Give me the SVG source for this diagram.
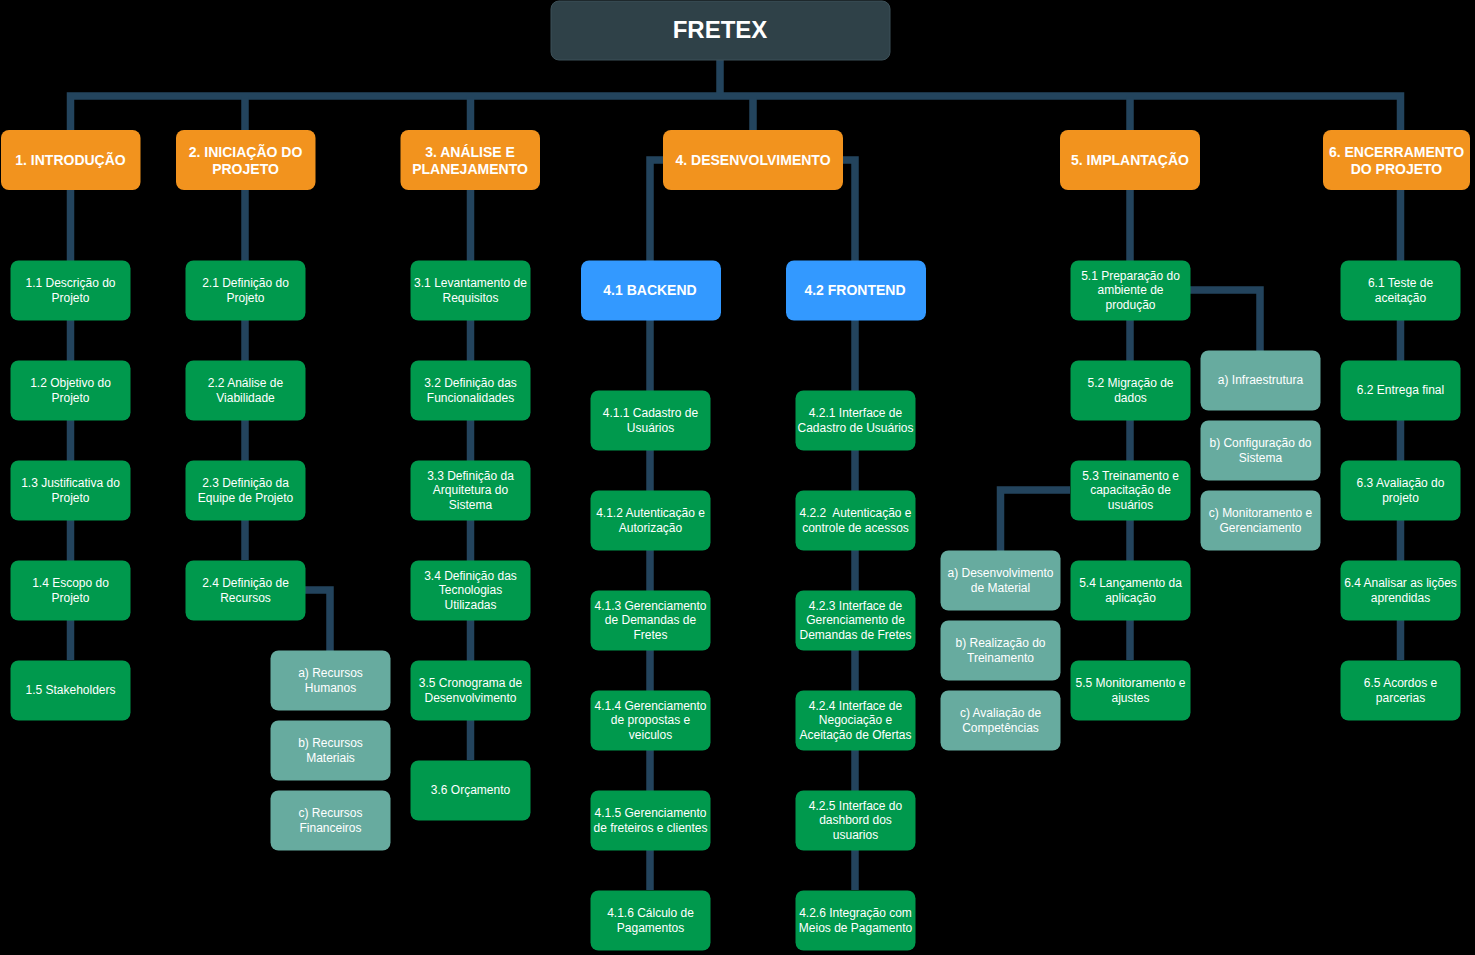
<svg xmlns="http://www.w3.org/2000/svg" width="1475" height="955" viewBox="0 0 1475 955">
<style>
.root{fill:#2f4148;stroke:#3d5159;stroke-width:1}
.o{fill:#f2931e}
.b{fill:#3399ff}
.g{fill:#00994d}
.s{fill:#67ab9f}
text{font-family:"Liberation Sans",Arial,Helvetica,sans-serif;fill:#ffffff;text-anchor:middle}
.t{font-size:12px}
.h{font-size:14px;font-weight:bold}
.rt{font-size:24px;font-weight:bold}
.c{fill:none;stroke:#23445d;stroke-width:7.5;stroke-linejoin:miter;stroke-linecap:butt}
</style>
<rect width="1475" height="955" fill="#000000"/>
<g id="connectors">
<path class="c" d="M720,60 V96"/>
<path class="c" d="M70.5,131 V96 H1400.5 V131"/>
<path class="c" d="M245,96 V131"/>
<path class="c" d="M470.5,96 V131"/>
<path class="c" d="M753,96 V131"/>
<path class="c" d="M1130,96 V131"/>
<path class="c" d="M70.5,190 V660"/>
<path class="c" d="M245,190 V560"/>
<path class="c" d="M305,590 H330 V651"/>
<path class="c" d="M470.5,190 V760"/>
<path class="c" d="M663,160 H650 V261"/>
<path class="c" d="M843,160 H855 V261"/>
<path class="c" d="M650,320 V890"/>
<path class="c" d="M855,320 V890"/>
<path class="c" d="M1130,190 V660"/>
<path class="c" d="M1190,290 H1260 V351"/>
<path class="c" d="M1070,490 H1000.5 V551"/>
<path class="c" d="M1400.5,190 V660"/>
</g>
<g id="n-root"><rect class="root" x="551" y="1" width="339" height="59" rx="8"/><text class="rt" x="720" y="37.5">FRETEX</text></g>
<g id="n1"><rect class="o" x="1" y="130" width="139.5" height="60" rx="8"/><text class="h" x="70.5" y="165">1. INTRODUÇÃO</text></g>
<g id="n2"><rect class="o" x="176" y="130" width="139.5" height="60" rx="8"/><text class="h" x="245.5"><tspan x="245.5" y="157">2. INICIAÇÃO DO</tspan><tspan x="245.5" y="173.5">PROJETO</tspan></text></g>
<g id="n3"><rect class="o" x="400.5" y="130" width="139.5" height="60" rx="8"/><text class="h" x="470"><tspan x="470" y="157">3. ANÁLISE E</tspan><tspan x="470" y="173.5">PLANEJAMENTO</tspan></text></g>
<g id="n4"><rect class="o" x="663" y="130" width="180" height="60" rx="8"/><text class="h" x="753" y="165">4. DESENVOLVIMENTO</text></g>
<g id="n5"><rect class="o" x="1060" y="130" width="140" height="60" rx="8"/><text class="h" x="1130" y="165">5. IMPLANTAÇÃO</text></g>
<g id="n6"><rect class="o" x="1323" y="130" width="147" height="60" rx="8"/><text class="h" x="1396.5"><tspan x="1396.5" y="157">6. ENCERRAMENTO</tspan><tspan x="1396.5" y="173.5">DO PROJETO</tspan></text></g>

<g id="n1-1"><rect class="g" x="10.5" y="260.5" width="120" height="60" rx="8"/><text class="t"><tspan x="70.5" y="287">1.1 Descrição do</tspan><tspan x="70.5" y="302">Projeto</tspan></text></g>
<g id="n1-2"><rect class="g" x="10.5" y="360.5" width="120" height="60" rx="8"/><text class="t"><tspan x="70.5" y="387">1.2 Objetivo do</tspan><tspan x="70.5" y="402">Projeto</tspan></text></g>
<g id="n1-3"><rect class="g" x="10.5" y="460.5" width="120" height="60" rx="8"/><text class="t"><tspan x="70.5" y="487">1.3 Justificativa do</tspan><tspan x="70.5" y="502">Projeto</tspan></text></g>
<g id="n1-4"><rect class="g" x="10.5" y="560.5" width="120" height="60" rx="8"/><text class="t"><tspan x="70.5" y="587">1.4 Escopo do</tspan><tspan x="70.5" y="602">Projeto</tspan></text></g>
<g id="n1-5"><rect class="g" x="10.5" y="660.5" width="120" height="60" rx="8"/><text class="t" x="70.5" y="693.5">1.5 Stakeholders</text></g>

<g id="n2-1"><rect class="g" x="185.5" y="260.5" width="120" height="60" rx="8"/><text class="t"><tspan x="245.5" y="287">2.1 Definição do</tspan><tspan x="245.5" y="302">Projeto</tspan></text></g>
<g id="n2-2"><rect class="g" x="185.5" y="360.5" width="120" height="60" rx="8"/><text class="t"><tspan x="245.5" y="387">2.2 Análise de</tspan><tspan x="245.5" y="402">Viabilidade</tspan></text></g>
<g id="n2-3"><rect class="g" x="185.5" y="460.5" width="120" height="60" rx="8"/><text class="t"><tspan x="245.5" y="487">2.3 Definição da</tspan><tspan x="245.5" y="502">Equipe de Projeto</tspan></text></g>
<g id="n2-4"><rect class="g" x="185.5" y="560.5" width="120" height="60" rx="8"/><text class="t"><tspan x="245.5" y="587">2.4 Definição de</tspan><tspan x="245.5" y="602">Recursos</tspan></text></g>
<g id="n2-4a"><rect class="s" x="270.5" y="650.5" width="120" height="60" rx="8"/><text class="t"><tspan x="330.5" y="677">a) Recursos</tspan><tspan x="330.5" y="692">Humanos</tspan></text></g>
<g id="n2-4b"><rect class="s" x="270.5" y="720.5" width="120" height="60" rx="8"/><text class="t"><tspan x="330.5" y="747">b) Recursos</tspan><tspan x="330.5" y="762">Materiais</tspan></text></g>
<g id="n2-4c"><rect class="s" x="270.5" y="790.5" width="120" height="60" rx="8"/><text class="t"><tspan x="330.5" y="817">c) Recursos</tspan><tspan x="330.5" y="832">Financeiros</tspan></text></g>

<g id="n3-1"><rect class="g" x="410.5" y="260.5" width="120" height="60" rx="8"/><text class="t"><tspan x="470.5" y="287">3.1 Levantamento de</tspan><tspan x="470.5" y="302">Requisitos</tspan></text></g>
<g id="n3-2"><rect class="g" x="410.5" y="360.5" width="120" height="60" rx="8"/><text class="t"><tspan x="470.5" y="387">3.2 Definição das</tspan><tspan x="470.5" y="402">Funcionalidades</tspan></text></g>
<g id="n3-3"><rect class="g" x="410.5" y="460.5" width="120" height="60" rx="8"/><text class="t"><tspan x="470.5" y="479.5">3.3 Definição da</tspan><tspan x="470.5" y="494">Arquitetura do</tspan><tspan x="470.5" y="508.5">Sistema</tspan></text></g>
<g id="n3-4"><rect class="g" x="410.5" y="560.5" width="120" height="60" rx="8"/><text class="t"><tspan x="470.5" y="579.5">3.4 Definição das</tspan><tspan x="470.5" y="594">Tecnologias</tspan><tspan x="470.5" y="608.5">Utilizadas</tspan></text></g>
<g id="n3-5"><rect class="g" x="410.5" y="660.5" width="120" height="60" rx="8"/><text class="t"><tspan x="470.5" y="687">3.5 Cronograma de</tspan><tspan x="470.5" y="702">Desenvolvimento</tspan></text></g>
<g id="n3-6"><rect class="g" x="410.5" y="760.5" width="120" height="60" rx="8"/><text class="t" x="470.5" y="793.5">3.6 Orçamento</text></g>

<g id="n4-1"><rect class="b" x="581" y="260.5" width="140" height="60" rx="8"/><text class="h" x="650" y="295">4.1 BACKEND</text></g>
<g id="n4-2"><rect class="b" x="786" y="260.5" width="140" height="60" rx="8"/><text class="h" x="855" y="295">4.2 FRONTEND</text></g>

<g id="n4-1-1"><rect class="g" x="590.5" y="390.5" width="120" height="60" rx="8"/><text class="t"><tspan x="650.5" y="417">4.1.1 Cadastro de</tspan><tspan x="650.5" y="432">Usuários</tspan></text></g>
<g id="n4-1-2"><rect class="g" x="590.5" y="490.5" width="120" height="60" rx="8"/><text class="t"><tspan x="650.5" y="517">4.1.2 Autenticação e</tspan><tspan x="650.5" y="532">Autorização</tspan></text></g>
<g id="n4-1-3"><rect class="g" x="590.5" y="590.5" width="120" height="60" rx="8"/><text class="t"><tspan x="650.5" y="609.5">4.1.3 Gerenciamento</tspan><tspan x="650.5" y="624">de Demandas de</tspan><tspan x="650.5" y="638.5">Fretes</tspan></text></g>
<g id="n4-1-4"><rect class="g" x="590.5" y="690.5" width="120" height="60" rx="8"/><text class="t"><tspan x="650.5" y="709.5">4.1.4 Gerenciamento</tspan><tspan x="650.5" y="724">de propostas e</tspan><tspan x="650.5" y="738.5">veiculos</tspan></text></g>
<g id="n4-1-5"><rect class="g" x="590.5" y="790.5" width="120" height="60" rx="8"/><text class="t"><tspan x="650.5" y="817">4.1.5 Gerenciamento</tspan><tspan x="650.5" y="832">de freteiros e clientes</tspan></text></g>
<g id="n4-1-6"><rect class="g" x="590.5" y="890.5" width="120" height="60" rx="8"/><text class="t"><tspan x="650.5" y="917">4.1.6 Cálculo de</tspan><tspan x="650.5" y="932">Pagamentos</tspan></text></g>

<g id="n4-2-1"><rect class="g" x="795.5" y="390.5" width="120" height="60" rx="8"/><text class="t"><tspan x="855.5" y="417">4.2.1 Interface de</tspan><tspan x="855.5" y="432">Cadastro de Usuários</tspan></text></g>
<g id="n4-2-2"><rect class="g" x="795.5" y="490.5" width="120" height="60" rx="8"/><text class="t"><tspan x="855.5" y="517">4.2.2&#160; Autenticação e</tspan><tspan x="855.5" y="532">controle de acessos</tspan></text></g>
<g id="n4-2-3"><rect class="g" x="795.5" y="590.5" width="120" height="60" rx="8"/><text class="t"><tspan x="855.5" y="609.5">4.2.3 Interface de</tspan><tspan x="855.5" y="624">Gerenciamento de</tspan><tspan x="855.5" y="638.5">Demandas de Fretes</tspan></text></g>
<g id="n4-2-4"><rect class="g" x="795.5" y="690.5" width="120" height="60" rx="8"/><text class="t"><tspan x="855.5" y="709.5">4.2.4 Interface de</tspan><tspan x="855.5" y="724">Negociação e</tspan><tspan x="855.5" y="738.5">Aceitação de Ofertas</tspan></text></g>
<g id="n4-2-5"><rect class="g" x="795.5" y="790.5" width="120" height="60" rx="8"/><text class="t"><tspan x="855.5" y="809.5">4.2.5 Interface do</tspan><tspan x="855.5" y="824">dashbord dos</tspan><tspan x="855.5" y="838.5">usuarios</tspan></text></g>
<g id="n4-2-6"><rect class="g" x="795.5" y="890.5" width="120" height="60" rx="8"/><text class="t"><tspan x="855.5" y="917">4.2.6 Integração com</tspan><tspan x="855.5" y="932">Meios de Pagamento</tspan></text></g>

<g id="n5-1"><rect class="g" x="1070.5" y="260.5" width="120" height="60" rx="8"/><text class="t"><tspan x="1130.5" y="279.5">5.1 Preparação do</tspan><tspan x="1130.5" y="294">ambiente de</tspan><tspan x="1130.5" y="308.5">produção</tspan></text></g>
<g id="n5-2"><rect class="g" x="1070.5" y="360.5" width="120" height="60" rx="8"/><text class="t"><tspan x="1130.5" y="387">5.2 Migração de</tspan><tspan x="1130.5" y="402">dados</tspan></text></g>
<g id="n5-3"><rect class="g" x="1070.5" y="460.5" width="120" height="60" rx="8"/><text class="t"><tspan x="1130.5" y="479.5">5.3 Treinamento e</tspan><tspan x="1130.5" y="494">capacitação de</tspan><tspan x="1130.5" y="508.5">usuários</tspan></text></g>
<g id="n5-4"><rect class="g" x="1070.5" y="560.5" width="120" height="60" rx="8"/><text class="t"><tspan x="1130.5" y="587">5.4 Lançamento da</tspan><tspan x="1130.5" y="602">aplicação</tspan></text></g>
<g id="n5-5"><rect class="g" x="1070.5" y="660.5" width="120" height="60" rx="8"/><text class="t"><tspan x="1130.5" y="687">5.5 Monitoramento e</tspan><tspan x="1130.5" y="702">ajustes</tspan></text></g>
<g id="n5-1a"><rect class="s" x="1200.5" y="350.5" width="120" height="60" rx="8"/><text class="t" x="1260.5" y="383.5">a) Infraestrutura</text></g>
<g id="n5-1b"><rect class="s" x="1200.5" y="420.5" width="120" height="60" rx="8"/><text class="t"><tspan x="1260.5" y="447">b) Configuração do</tspan><tspan x="1260.5" y="462">Sistema</tspan></text></g>
<g id="n5-1c"><rect class="s" x="1200.5" y="490.5" width="120" height="60" rx="8"/><text class="t"><tspan x="1260.5" y="517">c) Monitoramento e</tspan><tspan x="1260.5" y="532">Gerenciamento</tspan></text></g>
<g id="n5-3a"><rect class="s" x="940.5" y="550.5" width="120" height="60" rx="8"/><text class="t"><tspan x="1000.5" y="577">a) Desenvolvimento</tspan><tspan x="1000.5" y="592">de Material</tspan></text></g>
<g id="n5-3b"><rect class="s" x="940.5" y="620.5" width="120" height="60" rx="8"/><text class="t"><tspan x="1000.5" y="647">b) Realização do</tspan><tspan x="1000.5" y="662">Treinamento</tspan></text></g>
<g id="n5-3c"><rect class="s" x="940.5" y="690.5" width="120" height="60" rx="8"/><text class="t"><tspan x="1000.5" y="717">c) Avaliação de</tspan><tspan x="1000.5" y="732">Competências</tspan></text></g>

<g id="n6-1"><rect class="g" x="1340.5" y="260.5" width="120" height="60" rx="8"/><text class="t"><tspan x="1400.5" y="287">6.1 Teste de</tspan><tspan x="1400.5" y="302">aceitação</tspan></text></g>
<g id="n6-2"><rect class="g" x="1340.5" y="360.5" width="120" height="60" rx="8"/><text class="t" x="1400.5" y="393.5">6.2 Entrega final</text></g>
<g id="n6-3"><rect class="g" x="1340.5" y="460.5" width="120" height="60" rx="8"/><text class="t"><tspan x="1400.5" y="487">6.3 Avaliação do</tspan><tspan x="1400.5" y="502">projeto</tspan></text></g>
<g id="n6-4"><rect class="g" x="1340.5" y="560.5" width="120" height="60" rx="8"/><text class="t"><tspan x="1400.5" y="587">6.4 Analisar as lições</tspan><tspan x="1400.5" y="602">aprendidas</tspan></text></g>
<g id="n6-5"><rect class="g" x="1340.5" y="660.5" width="120" height="60" rx="8"/><text class="t"><tspan x="1400.5" y="687">6.5 Acordos e</tspan><tspan x="1400.5" y="702">parcerias</tspan></text></g>
</svg>
